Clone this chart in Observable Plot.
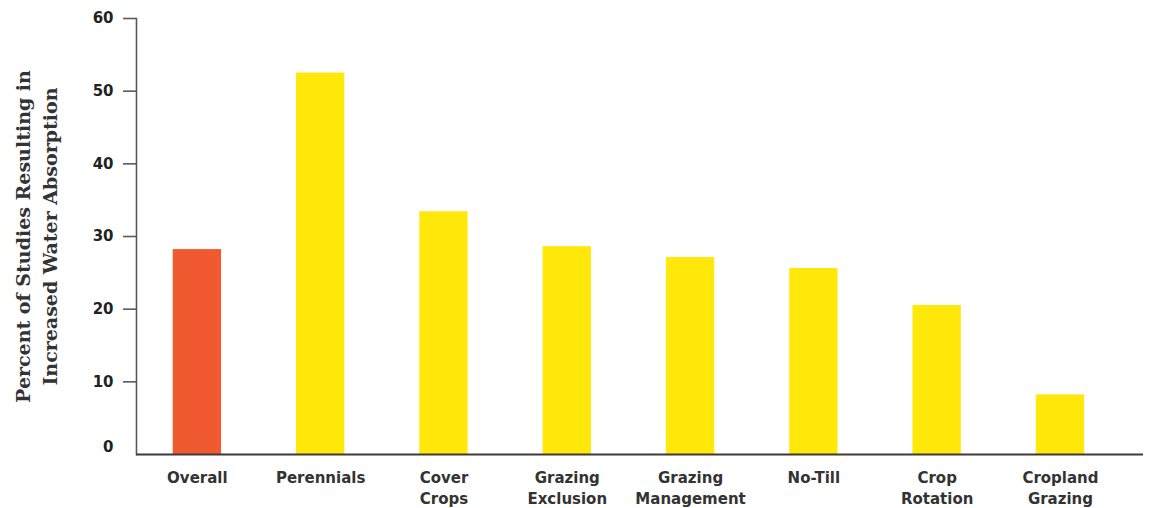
<!DOCTYPE html>
<html>
<head>
<meta charset="utf-8">
<script src="https://cdn.jsdelivr.net/npm/d3@7"></script>
<script src="https://cdn.jsdelivr.net/npm/@observablehq/plot@0.6"></script>
<style>
  html, body { margin: 0; padding: 0; background: #fff; }
  #chart svg { display: block; }
</style>
</head>
<body>
<div id="chart"></div>
<script>
const categories = ["Overall", "Perennials", "Cover Crops", "Grazing Exclusion", "Grazing Management", "No-Till", "Crop Rotation", "Cropland Grazing"];
const categoryLabels = ["Overall", "Perennials", "Cover\nCrops", "Grazing\nExclusion", "Grazing\nManagement", "No-Till", "Crop\nRotation", "Cropland\nGrazing"];
const values = [28.2, 52.5, 33.4, 28.6, 27.1, 25.6, 20.5, 8.2];
const yTicks = [10, 20, 30, 40, 50, 60];
const yZeroTick = [0];
const yTitle = "Percent of Studies Resulting in\nIncreased Water Absorption";

const data = categories.map((c, i) => ({category: c, value: values[i]}));
const labelOf = new Map(categories.map((c, i) => [c, categoryLabels[i]]));

const sans = "'DejaVu Sans', sans-serif";

const chart = Plot.plot({
  width: 1156,
  height: 508,
  marginLeft: 136,
  marginRight: 13,
  marginTop: 18,
  marginBottom: 54,
  style: {fontFamily: sans, background: "#fff"},
  x: {domain: categories, paddingInner: 0.608, paddingOuter: 0.3875, align: 0.384, round: false},
  y: {domain: [0, 60], range: [454, 18]},
  marks: [
    Plot.barY(data, {
      x: "category",
      y: "value",
      fill: d => d.category === "Overall" ? "#f15a31" : "#ffe80a"
    }),
    Plot.frame({anchor: "left", stroke: "#5a5a5a", strokeWidth: 1.6}),
    Plot.ruleY([0], {stroke: "#3a3a3a", strokeWidth: 2}),
    Plot.axisY(yTicks, {
      tickSize: 13, tickPadding: 10, stroke: "#5a5a5a", strokeWidth: 1.6,
      fontSize: 15, fontWeight: "bold", fill: "#222", label: null
    }),
    Plot.axisY(yZeroTick, {
      tickSize: 0, tickPadding: 23, dy: -7,
      fontSize: 15, fontWeight: "bold", fill: "#222", label: null
    }),
    Plot.axisX({
      tickSize: 0, tickPadding: 14, lineHeight: 1.4,
      fontSize: 15, fontWeight: "bold", fill: "#333", label: null,
      tickFormat: c => labelOf.get(c)
    }),
    Plot.text([yTitle], {
      frameAnchor: "left", rotate: -90, dx: -102, lineHeight: 1.45,
      fontFamily: "'DejaVu Serif', serif", fontStretch: "condensed",
      fontSize: 19, fontWeight: "bold", fill: "#333", textAnchor: "middle"
    })
  ]
});
document.getElementById("chart").appendChild(chart);
</script>
</body>
</html>
